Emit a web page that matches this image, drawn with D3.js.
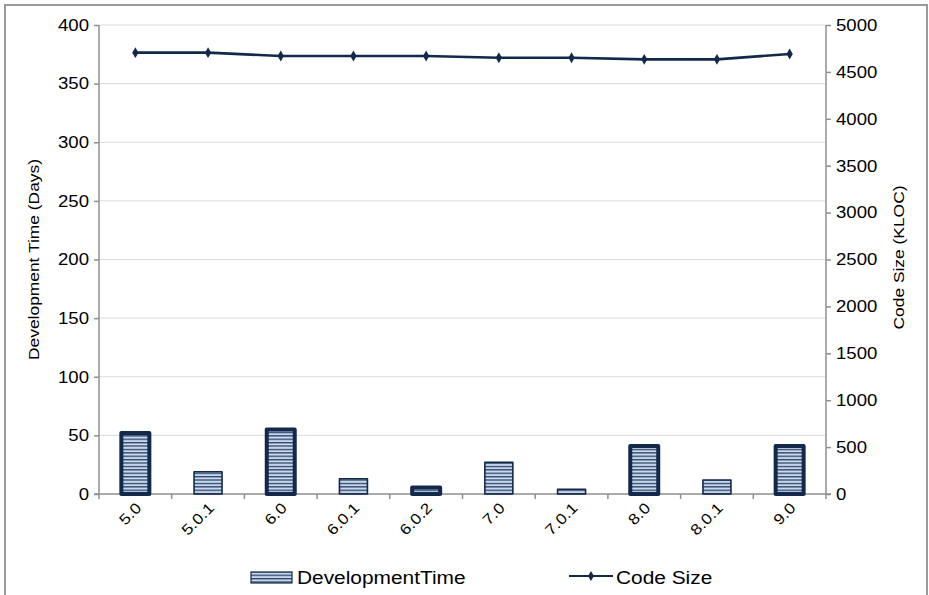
<!DOCTYPE html>
<html>
<head>
<meta charset="utf-8">
<script src="https://cdn.jsdelivr.net/npm/d3@7/dist/d3.min.js"></script>
<style>
  html, body { margin: 0; padding: 0; background: #fff; }
  svg { display: block; }
  text { font-family: "Liberation Sans", Arial, Helvetica, sans-serif; fill: #000; }
</style>
</head>
<body>
<svg id="chart" width="929" height="595"></svg>
<script>
// Release versions and their measurements
const versions = ["5.0", "5.0.1", "6.0", "6.0.1", "6.0.2", "7.0", "7.0.1", "8.0", "8.0.1", "9.0"];
const developmentTime = [52, 19, 55, 13, 5.5, 27, 4, 41, 12, 41];          // days
const codeSize = [4705, 4705, 4670, 4670, 4670, 4651, 4651, 4634, 4634, 4691]; // KLOC
const leftTicks = [0, 50, 100, 150, 200, 250, 300, 350, 400];
const rightTicks = [0, 500, 1000, 1500, 2000, 2500, 3000, 3500, 4000, 4500, 5000];

// Releases drawn with a heavy outline
const heavyOutline = new Set(["5.0", "6.0", "6.0.2", "8.0", "9.0"]);

const navy = "#13294b";
const axisGrey = "#8f8f8f";
const gridGrey = "#dcdcdc";
const stretch = 1.16; // glyph widening applied to all labels

const svg = d3.select("#chart");
const m = { left: 99, right: 826, top: 25, bottom: 494 };

// Frame around the whole chart
svg.append("rect")
  .attr("x", 5).attr("y", 5).attr("width", 922).attr("height", 600)
  .attr("fill", "none").attr("stroke", "#9a9a9a").attr("stroke-width", 2);

// Horizontal stripe fill
const defs = svg.append("defs");
const pat = defs.append("pattern")
  .attr("id", "stripes").attr("patternUnits", "userSpaceOnUse")
  .attr("width", 8).attr("height", 3.4);
pat.append("rect").attr("width", 8).attr("height", 3.4).attr("fill", "#c9d8ec");
pat.append("rect").attr("y", 0).attr("width", 8).attr("height", 1.3).attr("fill", "#2a4468");

const x = d3.scaleBand().domain(versions).range([m.left, m.right])
  .paddingInner(0.615).paddingOuter(0.3075);
const xStep = d3.scaleBand().domain(versions).range([m.left, m.right]);
const yL = d3.scaleLinear().domain([0, 400]).range([m.bottom, m.top]);
const yR = d3.scaleLinear().domain([0, 5000]).range([m.bottom, m.top]);

// Gridlines
svg.append("g").selectAll("line").data(leftTicks.filter(d => d > 0)).join("line")
  .attr("x1", m.left).attr("x2", m.right)
  .attr("y1", d => yL(d)).attr("y2", d => yL(d))
  .attr("stroke", gridGrey).attr("stroke-width", 1);

function label(g, tx, ty, rot, txt, size, anchor) {
  return g.append("text")
    .attr("transform", `translate(${tx},${ty}) rotate(${rot}) scale(${stretch},1)`)
    .attr("text-anchor", anchor)
    .style("font-size", size + "px")
    .text(txt);
}

// Left axis
const gL = svg.append("g").attr("transform", `translate(${m.left},0)`)
  .call(d3.axisLeft(yL).tickValues(leftTicks).tickSize(5).tickFormat(""));
gL.selectAll("path, line").attr("stroke", axisGrey).attr("stroke-width", 1.5);
gL.select("path").attr("d", `M0,${m.top}V${m.bottom}`);
leftTicks.forEach(t => label(svg, 89, yL(t) + 5.8, 0, d3.format("d")(t), 16, "end"));

// Right axis
const gR = svg.append("g").attr("transform", `translate(${m.right},0)`)
  .call(d3.axisRight(yR).tickValues(rightTicks).tickSize(5).tickFormat(""));
gR.selectAll("path, line").attr("stroke", axisGrey).attr("stroke-width", 1.5);
gR.select("path").attr("d", `M0,${m.top}V${m.bottom}`);
rightTicks.forEach(t => label(svg, 836, yR(t) + 5.8, 0, d3.format("d")(t), 16, "start"));

// Bottom axis: ticks between categories
const bounds = versions.map(v => xStep(v)).concat([m.right]);
const gB = svg.append("g");
gB.append("line").attr("x1", m.left - 5).attr("x2", m.right + 5)
  .attr("y1", m.bottom).attr("y2", m.bottom)
  .attr("stroke", axisGrey).attr("stroke-width", 1.5);
gB.selectAll("line.tick").data(bounds).join("line").attr("class", "tick")
  .attr("x1", d => d).attr("x2", d => d)
  .attr("y1", m.bottom).attr("y2", m.bottom + 5)
  .attr("stroke", axisGrey).attr("stroke-width", 1.5);
versions.forEach(v => {
  const cx = x(v) + x.bandwidth() / 2;
  label(svg, cx + 7, m.bottom + 15, -45, v, 15, "end");
});

// Bars
svg.append("g").selectAll("rect").data(versions).join("rect")
  .attr("x", v => x(v))
  .attr("width", x.bandwidth())
  .attr("y", (v, i) => yL(developmentTime[i]))
  .attr("height", (v, i) => yL(0) - yL(developmentTime[i]))
  .attr("fill", "url(#stripes)")
  .attr("stroke", navy)
  .attr("stroke-linejoin", "round")
  .attr("stroke-width", v => heavyOutline.has(v) ? 4 : 1.6);

// Code size line
const cxOf = v => x(v) + x.bandwidth() / 2;
const line = d3.line().x((d, i) => cxOf(versions[i])).y(d => yR(d));
svg.append("path").datum(codeSize)
  .attr("d", line).attr("fill", "none")
  .attr("stroke", navy).attr("stroke-width", 2.6);
svg.append("g").selectAll("path").data(codeSize).join("path")
  .attr("transform", (d, i) => `translate(${cxOf(versions[i])},${yR(d)})`)
  .attr("d", d3.symbol().type(d3.symbolDiamond).size(34))
  .attr("fill", navy);

// Axis titles
label(svg, 39, (m.top + m.bottom) / 2, -90, "Development Time (Days)", 15, "middle");
label(svg, 904, (m.top + m.bottom) / 2 - 2, -90, "Code Size (KLOC)", 15, "middle");

// Legend
const lg = svg.append("g");
lg.append("rect").attr("x", 251).attr("y", 572).attr("width", 41).attr("height", 11)
  .attr("fill", "url(#stripes)").attr("stroke", navy).attr("stroke-width", 1.2);
label(lg, 297, 584, 0, "DevelopmentTime", 18, "start");
lg.append("line").attr("x1", 569).attr("x2", 613).attr("y1", 576).attr("y2", 576)
  .attr("stroke", navy).attr("stroke-width", 2);
lg.append("path").attr("transform", "translate(591,576)")
  .attr("d", d3.symbol().type(d3.symbolDiamond).size(30)).attr("fill", navy);
label(lg, 616, 584, 0, "Code Size", 18, "start");
</script>
</body>
</html>
